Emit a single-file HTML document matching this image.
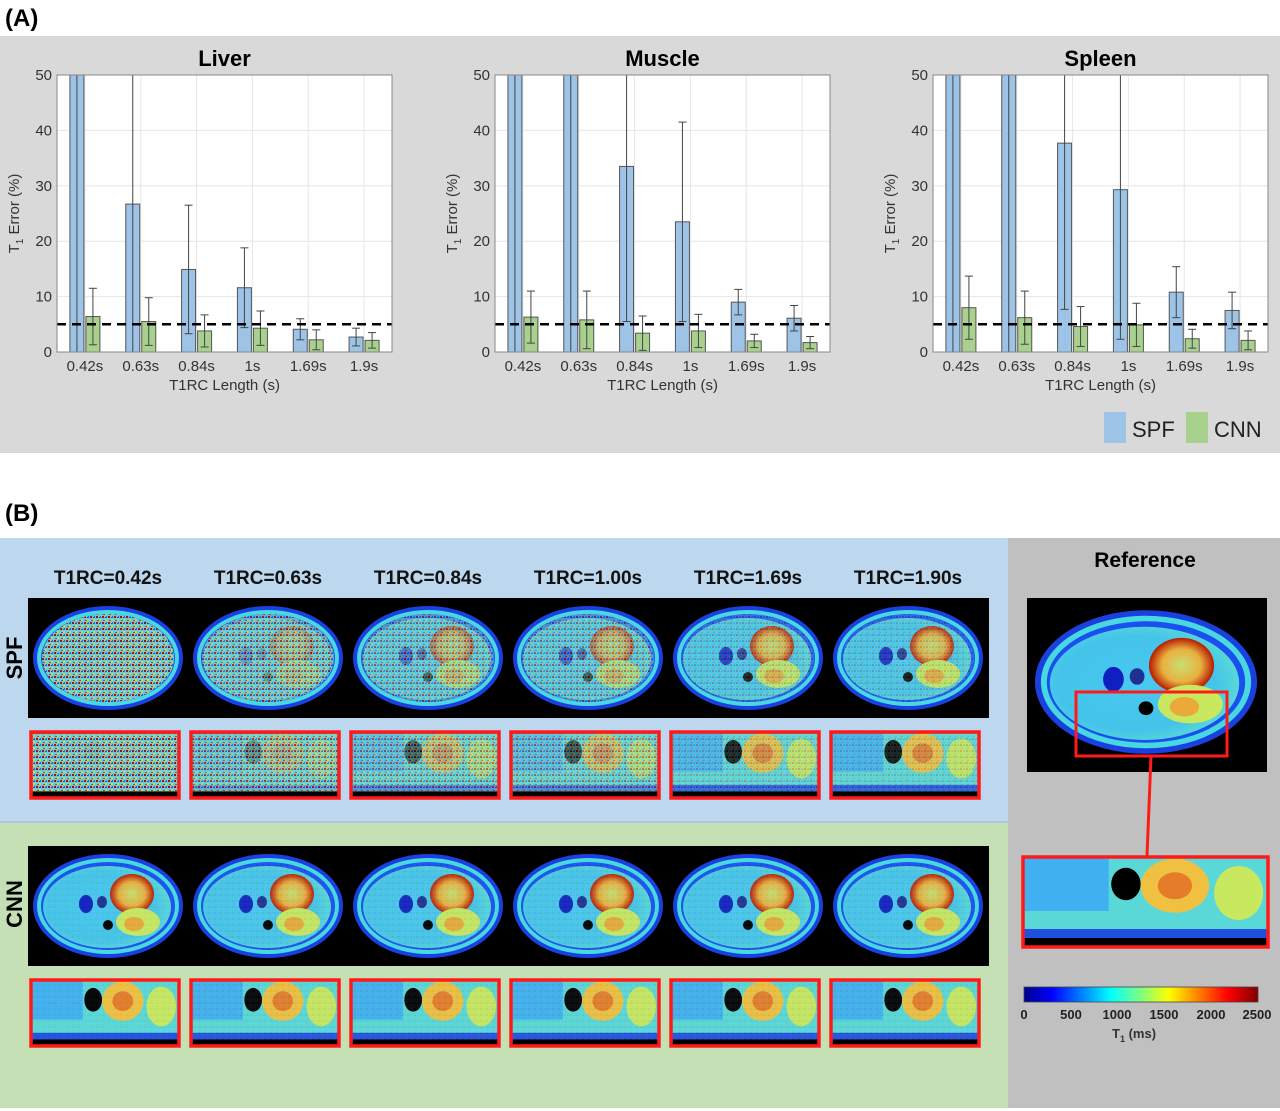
<!DOCTYPE html>
<html><head><meta charset="utf-8">
<style>
body{margin:0;width:1280px;height:1111px;background:#fff;overflow:hidden;font-family:"Liberation Sans","DejaVu Sans",sans-serif;}
svg{display:block}
</style></head>
<body>
<svg id="fig" width="1280" height="1111" viewBox="0 0 1280 1111">
<defs>
<linearGradient id="jet" x1="0" x2="1" y1="0" y2="0">
<stop offset="0" stop-color="#00008f"/><stop offset="0.12" stop-color="#0000ff"/><stop offset="0.37" stop-color="#00ffff"/>
<stop offset="0.5" stop-color="#7fff7f"/><stop offset="0.62" stop-color="#ffff00"/><stop offset="0.87" stop-color="#ff0000"/><stop offset="1" stop-color="#800000"/>
</linearGradient>
<radialGradient id="bodyg" cx="0.45" cy="0.5" r="0.6">
<stop offset="0" stop-color="#49c8f0"/><stop offset="0.7" stop-color="#45c4ea"/><stop offset="1" stop-color="#60e0d0"/>
</radialGradient>
<radialGradient id="stom" cx="0.5" cy="0.5" r="0.5">
<stop offset="0" stop-color="#c8e070"/><stop offset="0.6" stop-color="#e8b040"/><stop offset="1" stop-color="#b81a00"/>
</radialGradient>
<pattern id="speck" width="6" height="6" patternUnits="userSpaceOnUse">
<rect width="6" height="6" fill="#60d0e8"/><rect x="0" y="0" width="2" height="2" fill="#a01000"/><rect x="3" y="3" width="2" height="2" fill="#ffd000"/><rect x="4" y="0" width="1" height="2" fill="#2060ff"/><rect x="1" y="4" width="2" height="1" fill="#e03000"/><rect x="3" y="1" width="1" height="1" fill="#c01800"/>
</pattern>
</defs>

<text x="5" y="26" font-size="24" font-weight="bold">(A)</text>
<rect x="0" y="36" width="1280" height="417" fill="#d9d9d9"/>
<g id="charts"></g>
<g>
<rect x="1104" y="412" width="22" height="31" fill="#9dc3e6"/>
<text x="1132" y="437" font-size="22" fill="#222">SPF</text>
<rect x="1186" y="412" width="22" height="31" fill="#a9d18e"/>
<text x="1214" y="437" font-size="22" fill="#222">CNN</text>
</g>

<text x="5" y="521" font-size="24" font-weight="bold">(B)</text>
<rect x="0" y="538" width="1008" height="284" fill="#bdd7ee"/>
<rect x="0" y="822" width="1008" height="286" fill="#c5e0b4"/>
<rect x="1008" y="538" width="272" height="570" fill="#c0c0c0"/>
<line x1="0" y1="822" x2="1008" y2="822" stroke="#a8c8e0" stroke-width="2"/>
<text transform="translate(22,658) rotate(-90)" text-anchor="middle" font-size="22" font-weight="bold">SPF</text>
<text transform="translate(22,904) rotate(-90)" text-anchor="middle" font-size="22" font-weight="bold">CNN</text>
<rect x="28" y="598" width="961" height="120" fill="#000"/>
<rect x="28" y="846" width="961" height="120" fill="#000"/>
<g id="maps"></g>
<text x="1145" y="567" text-anchor="middle" font-size="21" font-weight="bold">Reference</text>
<rect x="1027" y="598" width="240" height="174" fill="#000"/>
<g id="refmap"></g>
<rect x="1076" y="692" width="151" height="64" fill="none" stroke="#ff1a1a" stroke-width="3"/>
<line x1="1151" y1="756" x2="1147" y2="856" stroke="#ff1a1a" stroke-width="3"/>
<g id="refzoom"></g>
<rect x="1024" y="987" width="234" height="15" fill="url(#jet)" stroke="#444" stroke-width="0.8"/>
<g font-size="13" fill="#222" font-weight="bold" text-anchor="middle">
<text x="1024" y="1019">0</text><text x="1071" y="1019">500</text><text x="1117" y="1019">1000</text><text x="1164" y="1019">1500</text><text x="1211" y="1019">2000</text><text x="1257" y="1019">2500</text>
</g>
<text x="1112" y="1038" font-size="13" font-weight="bold" fill="#333">T<tspan font-size="9" dy="4">1</tspan><tspan dy="-4"> (ms)</tspan></text>
</svg>

<script>
const categories = ["0.42s","0.63s","0.84s","1s","1.69s","1.9s"];
const yTicks = [0,10,20,30,40,50];
const titles = ["Liver","Muscle","Spleen"];
const liverSPF = [60,26.7,14.9,11.6,4.1,2.7];
const liverSPFErr = [60,60,11.6,7.2,1.9,1.6];
const liverCNN = [6.4,5.5,3.8,4.3,2.2,2.1];
const liverCNNErr = [5.1,4.3,2.9,3.1,1.8,1.4];
const muscleSPF = [60,60,33.5,23.5,9.0,6.1];
const muscleSPFErr = [60,60,28,18,2.3,2.3];
const muscleCNN = [6.3,5.8,3.4,3.8,2.0,1.7];
const muscleCNNErr = [4.7,5.2,3.1,3.0,1.2,1.1];
const spleenSPF = [60,60,37.7,29.3,10.8,7.5];
const spleenSPFErr = [60,60,30,27,4.6,3.3];
const spleenCNN = [8.0,6.2,4.6,4.9,2.4,2.1];
const spleenCNNErr = [5.7,4.8,3.6,3.9,1.7,1.7];
const threshold = 5;
const spfSeries = [liverSPF,muscleSPF,spleenSPF];
const spfErrs = [liverSPFErr,muscleSPFErr,spleenSPFErr];
const cnnSeries = [liverCNN,muscleCNN,spleenCNN];
const cnnErrs = [liverCNNErr,muscleCNNErr,spleenCNNErr];
const mapLabels = ["T1RC=0.42s","T1RC=0.63s","T1RC=0.84s","T1RC=1.00s","T1RC=1.69s","T1RC=1.90s"];
const spfNoise = [0.95,0.75,0.55,0.5,0.25,0.2];
const cnnNoise = [0.05,0.08,0.08,0.08,0.08,0.08];

const NS="http://www.w3.org/2000/svg";
function mk(tag,attrs,parent){const e=document.createElementNS(NS,tag);for(const k in attrs)e.setAttribute(k,attrs[k]);parent.appendChild(e);return e;}

const charts=document.getElementById('charts');
const plotW=335, plotTop=75, plotBot=352, yMax=50;
titles.forEach((t,ci)=>{
  const x0=57+ci*438;
  const g=mk('g',{},charts);
  
  
  const y=v=>plotBot-(v/yMax)*(plotBot-plotTop);
  const band=plotW/categories.length;
  const xc=i=>x0+band*(i+0.5);
  mk('rect',{x:x0,y:plotTop,width:plotW,height:plotBot-plotTop,fill:'#fff'},g);
  const cp=mk('clipPath',{id:'cp'+ci},g);
  mk('rect',{x:x0,y:plotTop,width:plotW,height:plotBot-plotTop},cp);
  yTicks.forEach(v=>{
    mk('line',{x1:x0,x2:x0+plotW,y1:y(v),y2:y(v),stroke:'#e6e6e6','stroke-width':1},g);
    const tx=mk('text',{x:x0-5,y:y(v)+5,'text-anchor':'end','font-size':15,fill:'#333'},g);
    tx.textContent=v;
    
    
  });
  categories.forEach((c,i)=>{
    mk('line',{x1:xc(i),x2:xc(i),y1:plotTop,y2:plotBot,stroke:'#e6e6e6','stroke-width':1},g);
    const tx=mk('text',{x:xc(i),y:plotBot+19,'text-anchor':'middle','font-size':15,fill:'#333'},g);
    tx.textContent=c;
    
    
  });
  const bg=mk('g',{'clip-path':'url(#cp'+ci+')'},g);
  const series=[[spfSeries[ci],spfErrs[ci],'#9dc3e6',-8,'spf'],[cnnSeries[ci],cnnErrs[ci],'#a9d18e',8,'cnn']];
  series.forEach(([vals,errs,col,off,nm])=>{
    vals.forEach((v,i)=>{
      const cx=xc(i)+off;
      const r=mk('rect',{x:cx-7,y:y(v),width:14,height:plotBot-y(v),fill:col,stroke:'#555','stroke-width':1},bg);
      
      
      const lo=Math.max(v-errs[i],0), hi=v+errs[i];
      const eb=mk('g',{stroke:'#444','stroke-width':1},bg);
      
      
      mk('line',{x1:cx,x2:cx,y1:y(hi),y2:y(lo)},eb);
      mk('line',{x1:cx-4,x2:cx+4,y1:y(hi),y2:y(hi)},eb);
      mk('line',{x1:cx-4,x2:cx+4,y1:y(lo),y2:y(lo)},eb);
    });
  });
  const th=mk('line',{x1:x0,x2:x0+plotW,y1:y(threshold),y2:y(threshold),stroke:'#000','stroke-width':2.5,'stroke-dasharray':'9,6'},g);
  
  
  mk('rect',{x:x0,y:plotTop,width:plotW,height:plotBot-plotTop,fill:'none',stroke:'#888','stroke-width':1},g);
  const tt=mk('text',{x:x0+plotW/2,y:66,'text-anchor':'middle','font-size':22,'font-weight':'bold',fill:'#000'},g);
  tt.textContent=t;
  
  
  const xl=mk('text',{x:x0+plotW/2,y:390,'text-anchor':'middle','font-size':15,fill:'#333'},g);
  xl.textContent='T1RC Length (s)';
  
  
  const yl=mk('text',{transform:'translate('+(x0-38)+','+((plotTop+plotBot)/2)+') rotate(-90)','text-anchor':'middle','font-size':15,fill:'#333'},g);
  yl.innerHTML='T<tspan font-size="10" dy="4">1</tspan><tspan dy="-4"> Error (%)</tspan>';
  
  
});

function slice(p,cx,cy,sx,sy,noise){
  const g=mk('g',{transform:'translate('+cx+','+cy+') scale('+sx+','+sy+')'},p);
  mk('ellipse',{cx:0,cy:0,rx:75,ry:52,fill:'#1a40e0'},g);
  mk('ellipse',{cx:0,cy:0,rx:71,ry:48,fill:'#48d8e0'},g);
  mk('ellipse',{cx:0,cy:0,rx:67,ry:44,fill:'#1a50f0'},g);
  mk('ellipse',{cx:-1,cy:1,rx:64,ry:41,fill:'url(#bodyg)'},g);
  mk('ellipse',{cx:24,cy:-12,rx:22,ry:20,fill:'url(#stom)'},g);
  mk('ellipse',{cx:30,cy:16,rx:22,ry:14,fill:'#c8e860'},g);
  mk('ellipse',{cx:26,cy:18,rx:10,ry:7,fill:'#ff8020',opacity:0.6},g);
  mk('ellipse',{cx:-22,cy:-2,rx:7,ry:9,fill:'#1020c0'},g);
  mk('ellipse',{cx:-6,cy:-4,rx:5,ry:6,fill:'#203090'},g);
  mk('circle',{cx:0,cy:19,r:5,fill:'#000'},g);
  if(noise>0) mk('ellipse',{cx:0,cy:0,rx:66,ry:44,fill:'url(#speck)',opacity:noise},g);
  return g;
}
function zoomStrip(p,x,y,w,h,noise){
  const g=mk('g',{},p);
  mk('rect',{x:x,y:y,width:w,height:h,fill:'#5ad8d8'},g);
  mk('rect',{x:x,y:y,width:w*0.35,height:h*0.6,fill:'#40b0f0'},g);
  mk('ellipse',{cx:x+w*0.62,cy:y+h*0.32,rx:w*0.14,ry:h*0.3,fill:'#f0c040'},g);
  mk('ellipse',{cx:x+w*0.62,cy:y+h*0.32,rx:w*0.07,ry:h*0.15,fill:'#e06020',opacity:0.7},g);
  mk('ellipse',{cx:x+w*0.88,cy:y+h*0.4,rx:w*0.1,ry:h*0.3,fill:'#c8e860'},g);
  mk('ellipse',{cx:x+w*0.42,cy:y+h*0.3,rx:w*0.06,ry:h*0.18,fill:'#000'},g);
  mk('rect',{x:x,y:y+h*0.8,width:w,height:h*0.1,fill:'#2050e0'},g);
  mk('rect',{x:x,y:y+h*0.9,width:w,height:h*0.1,fill:'#000'},g);
  if(noise>0) mk('rect',{x:x,y:y,width:w,height:h*0.9,fill:'url(#speck)',opacity:noise},g);
  mk('rect',{x:x,y:y,width:w,height:h,fill:'none',stroke:'#ff1a1a','stroke-width':3.5},g);
  return g;
}
const maps=document.getElementById('maps');
mapLabels.forEach((lab,i)=>{
  const cx=108+i*160;
  const t=mk('text',{x:cx,y:584,'text-anchor':'middle','font-size':19,'font-weight':'bold',fill:'#111'},maps);
  t.textContent=lab;
  
  
  const s1=slice(maps,cx,658,1,1,spfNoise[i]);
  
  
  const s2=slice(maps,cx,906,1,1,cnnNoise[i]);
  
  
  const z1=zoomStrip(maps,cx-77,732,148,66,spfNoise[i]);
  
  
  const z2=zoomStrip(maps,cx-77,980,148,66,cnnNoise[i]);
  
  
});
const rm=slice(document.getElementById('refmap'),1146,682,1.48,1.38,0);


const rz=zoomStrip(document.getElementById('refzoom'),1023,857,245,90,0);


</script>
</body></html>
